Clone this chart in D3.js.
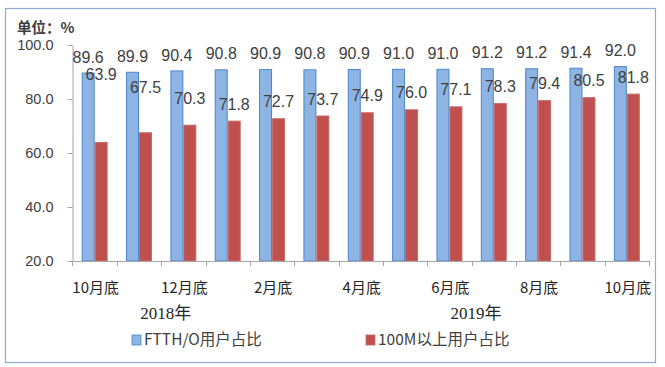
<!DOCTYPE html>
<html><head><meta charset="utf-8">
<script src="https://cdn.jsdelivr.net/npm/d3@7"></script>
<style>body{margin:0;background:#fff}svg{display:block}</style>
</head><body>
<svg id="c" width="665" height="367"></svg>
<script>
const categories = ["2018-10","2018-11","2018-12","2019-01","2019-02","2019-03","2019-04","2019-05","2019-06","2019-07","2019-08","2019-09","2019-10"];
const tickLabels = ["10月底","","12月底","","2月底","","4月底","","6月底","","8月底","","10月底"];
const ftthValues = [89.6,89.9,90.4,90.8,90.9,90.8,90.9,91.0,91.0,91.2,91.2,91.4,92.0];
const m100Values = [63.9,67.5,70.3,71.8,72.7,73.7,74.9,76.0,77.1,78.3,79.4,80.5,81.8];
const seriesNames = ["FTTH/O用户占比","100M以上用户占比"];
const yTicks = [20,40,60,80,100];
const yearLabels = [{text:"2018年", at:1.6},{text:"2019年", at:8.6}];
const unitLabel = "单位：%";
// extra lift (px) for first red labels, as placed in the original
const redLabelLift = [51,28,10,0,0,0,0,0,0,0,0,0,0];

(function(){
const svg = d3.select("#c");
svg.append("rect").attr("x",5.5).attr("y",8.5).attr("width",650).attr("height",354)
  .attr("fill","#fff").attr("stroke","#8EAADB").attr("stroke-width",1.2);

const mLeft = 72.5, mRight = 649, mTop = 45, mBottom = 261;
const x0 = d3.scaleBand().domain(d3.range(categories.length)).range([mLeft,mRight])
  .paddingInner(0.415).paddingOuter(0.2075);
const x1 = d3.scaleBand().domain([0,1]).range([0,x0.bandwidth()]);
const y = d3.scaleLinear().domain([20,100]).range([mBottom,mTop]);

const colors = ["#8DB4E2","#C0504D"];
const strokes = ["#4A86D0","#C96A68"];
const series = [ftthValues, m100Values];

const yAxis = d3.axisLeft(y).tickValues(yTicks).tickFormat(d3.format(".1f")).tickSize(5).tickSizeOuter(0);
const gy = svg.append("g").attr("transform",`translate(${mLeft},0)`).call(yAxis);
gy.select(".domain").attr("stroke","#A6A6A6");
gy.selectAll(".tick line").attr("stroke","#A6A6A6");
gy.selectAll(".tick text").attr("font-family","'Liberation Sans',Arial,sans-serif").attr("font-size",14.5).attr("fill","#404040").attr("x",-19);

series.forEach((vals,s)=>{
  svg.append("g").selectAll("rect").data(vals).join("rect")
    .attr("x",(d,i)=>x0(i)+x1(s)+0.5)
    .attr("y",d=>y(d))
    .attr("width",x1.bandwidth()-1)
    .attr("height",d=>y(20)-y(d))
    .attr("fill",colors[s]).attr("stroke",strokes[s]).attr("stroke-width",1);
});

svg.append("line").attr("x1",mLeft).attr("x2",mRight).attr("y1",mBottom+0.5).attr("y2",mBottom+0.5).attr("stroke","#A6A6A6");
const bounds = d3.range(categories.length+1).map(i=> i<categories.length ? x0(i)-x0.step()*x0.paddingOuter() : mRight);
svg.append("g").selectAll("line").data(bounds).join("line")
  .attr("x1",d=>Math.round(d)+0.5).attr("x2",d=>Math.round(d)+0.5).attr("y1",mBottom).attr("y2",mBottom+5).attr("stroke","#A6A6A6");

const numFont = "'Liberation Sans',Arial,sans-serif";
svg.append("g").selectAll("text").data(ftthValues).join("text")
  .attr("x",(d,i)=>x0(i)+x1(0)+x1.bandwidth()/2)
  .attr("y",d=>y(d)-16).attr("dy","0.35em")
  .attr("text-anchor","middle").attr("font-family",numFont).attr("font-size",16).attr("fill","#404040")
  .text(d=>d.toFixed(1));
svg.append("g").selectAll("text").data(m100Values).join("text")
  .attr("x",(d,i)=>x0(i)+x1(1)+x1.bandwidth()/2)
  .attr("y",(d,i)=>y(d)-17-redLabelLift[i]).attr("dy","0.35em")
  .attr("text-anchor","middle").attr("font-family",numFont).attr("font-size",16).attr("fill","#404040")
  .text(d=>d.toFixed(1));

const cjk = "'Noto Sans CJK SC','Noto Sans',sans-serif";
svg.append("g").selectAll("text").data(tickLabels).join("text")
  .attr("x",(d,i)=>x0(i)+x0.bandwidth()/2+1)
  .attr("y",288).attr("dy","0.35em").attr("text-anchor","middle")
  .attr("font-family",cjk).attr("font-size",15).attr("fill","#262626").text(d=>d);

const catCenter = i => mLeft + (i+0.5)*x0.step();
svg.append("g").selectAll("text").data(yearLabels).join("text")
  .attr("x",d=>catCenter(d.at)).attr("y",313).attr("dy","0.35em").attr("text-anchor","middle")
  .attr("font-family","'Liberation Serif','Noto Sans CJK SC',serif").attr("font-size",17).attr("fill","#262626").text(d=>d.text);

svg.append("text").attr("x",17).attr("y",28).attr("dy","0.35em")
  .attr("font-family",cjk).attr("font-size",14.5).attr("font-weight","bold").attr("fill","#404040").text(unitLabel);

const legendX = [132,366];
seriesNames.forEach((n,s)=>{
  const g = svg.append("g").attr("transform",`translate(${legendX[s]},340)`);
  g.append("rect").attr("x",0).attr("y",-5).attr("width",9).attr("height",10).attr("fill",colors[s]).attr("stroke",strokes[s]).attr("stroke-width",0.8);
  g.append("text").attr("x",12).attr("y",0).attr("dy","0.35em").attr("font-family",cjk).attr("font-size",15.5).attr("fill","#404040").text(n);
});
})();
</script>
</body></html>
